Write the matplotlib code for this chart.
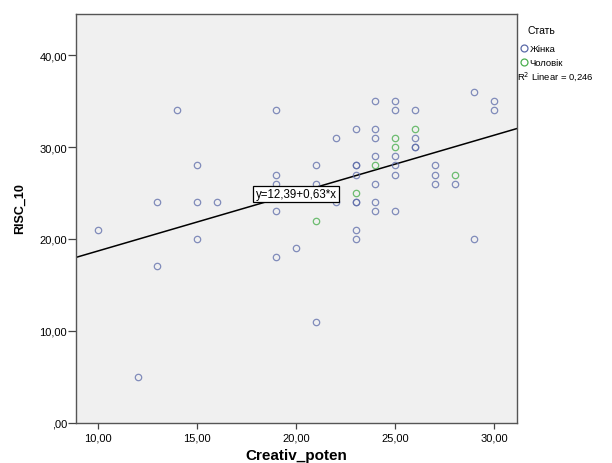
import matplotlib.pyplot as plt
from matplotlib.lines import Line2D

# Жінка (female) points
female_x = [10, 12, 13, 13, 14, 15, 15, 15, 16,
            19, 19, 19, 19, 19, 20, 21, 21, 21, 22, 22,
            23, 23, 23, 23, 23, 23, 23, 23,
            24, 24, 24, 24, 24, 24, 24,
            25, 25, 25, 25, 25, 25,
            26, 26, 26, 26, 27, 27, 27, 28, 29, 29, 30, 30]
female_y = [21, 5, 24, 17, 34, 28, 24, 20, 24,
            34, 27, 26, 23, 18, 19, 28, 26, 11, 31, 24,
            32, 28, 28, 27, 24, 24, 21, 20,
            35, 32, 31, 29, 26, 24, 23,
            35, 34, 29, 28, 27, 23,
            34, 31, 30, 30, 28, 27, 26, 26, 36, 20, 35, 34]

# Чоловік (male) points
male_x = [21, 23, 24, 25, 25, 26, 28]
male_y = [22, 25, 28, 31, 30, 32, 27]

intercept = 12.39
slope = 0.63
r2_text = 'R$^2$ Linear = 0,246'

x_ticks = [10, 15, 20, 25, 30]
x_labels = ['10,00', '15,00', '20,00', '25,00', '30,00']
y_ticks = [0, 10, 20, 30, 40]
y_labels = [',00', '10,00', '20,00', '30,00', '40,00']

plt.rcParams['font.family'] = ['Liberation Sans', 'DejaVu Sans']

fig = plt.figure(figsize=(6.12, 4.64), dpi=100)
ax = fig.add_axes([0.124, 0.087, 0.721, 0.881])
ax.set_facecolor('#f0f0f0')

blue = '#5b6aa8'
green = '#4caf50'

ax.plot(female_x, female_y, 'o', mfc='none', mec=blue, mew=0.9, ms=4.6,
        alpha=0.75, linestyle='none', zorder=3)
ax.plot(male_x, male_y, 'o', mfc='none', mec=green, mew=0.9, ms=4.6,
        alpha=0.8, linestyle='none', zorder=3)

xmin, xmax = 8.88, 31.16
ax.plot([xmin, xmax], [intercept + slope * xmin, intercept + slope * xmax],
        color='black', lw=1.1, zorder=2)

ax.text(20.0, 24.9, 'y=12,39+0,63*x', ha='center', va='center', fontsize=8.3,
        bbox=dict(boxstyle='square,pad=0.2', fc='white', ec='black', lw=0.9),
        zorder=4)

ax.set_xlim(xmin, xmax)
ax.set_ylim(0, 44.5)
ax.set_xticks(x_ticks)
ax.set_xticklabels(x_labels, fontsize=8)
ax.set_yticks(y_ticks)
ax.set_yticklabels(y_labels, fontsize=8)
ax.tick_params(axis='x', length=4, width=0.9, pad=3, color='#444444')
ax.tick_params(axis='y', length=6, width=0.9, pad=0.5, color='#444444')
for sp in ax.spines.values():
    sp.set_color('#555555')
    sp.set_linewidth(1.0)

ax.set_xlabel('Creativ_poten', fontsize=11, fontweight='bold')
ax.xaxis.set_label_coords(0.5, -0.063)
ax.set_ylabel('RISC_10', fontsize=9, fontweight='bold')
ax.yaxis.set_label_coords(-0.114, 0.525)

handles = [
    Line2D([], [], marker='o', ls='none', mfc='none', mec=blue, mew=0.9, ms=5),
    Line2D([], [], marker='o', ls='none', mfc='none', mec=green, mew=0.9, ms=5),
]
leg = fig.legend(handles, ['Жінка', 'Чоловік'], title='Стать',
                 loc='upper left', bbox_to_anchor=(0.84, 0.959),
                 frameon=False, fontsize=6.8, title_fontsize=7.5,
                 handlelength=0.6, handletextpad=0.35, labelspacing=0.5,
                 borderpad=0.2)
leg._legend_box.sep = 7
fig.text(0.845, 0.836, r2_text, fontsize=6.8, ha='left', va='center')

fig.savefig('out.png', dpi=100)
